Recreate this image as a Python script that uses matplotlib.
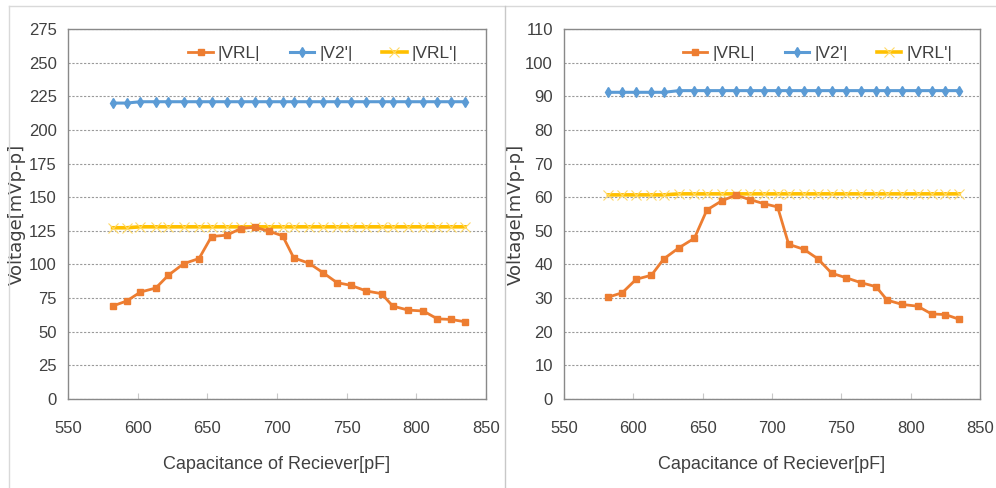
import matplotlib
matplotlib.use('Agg')
import matplotlib.pyplot as plt
from matplotlib.lines import Line2D

# capacitance of receiver [pF]
cap = [582, 592, 602, 613, 622, 633, 644, 653, 664, 674, 684, 694, 704,
       712, 723, 733, 743, 753, 764, 775, 783, 794, 805, 815, 825, 835]

# left chart
vrl_a = [69.1, 72.8, 79.5, 82.5, 92.0, 100.6, 104.4, 120.8, 121.8, 126.7, 127.7, 124.8, 121.3,
         104.9, 100.9, 93.9, 86.5, 84.5, 80.3, 78.3, 69.1, 66.1, 65.4, 59.6, 59.1, 57.4]
v2_a = [220, 220] + [221] * 24
vrlp_a = [127.3, 127.3] + [128] * 24

# right chart
vrl_b = [30.3, 31.6, 35.6, 36.8, 41.7, 45.0, 47.8, 56.2, 59.0, 60.6, 59.3, 58.1, 57.1,
         46.0, 44.5, 41.7, 37.4, 36.1, 34.6, 33.4, 29.4, 28.1, 27.6, 25.3, 25.1, 23.7]
v2_b = [91.2] * 5 + [91.7] * 21
vrlp_b = [60.7] * 5 + [61.0] * 21

ticks_a = list(range(0, 276, 25))
ticks_b = list(range(0, 111, 10))

narrow = ['Liberation Sans', 'DejaVu Sans']
orange = '#ED7D31'
blue = '#5B9BD5'
yellow = '#FFC000'
gray = '#898989'

fig = plt.figure(figsize=(9.96, 4.88), dpi=100)
ax1 = fig.add_axes([0.0683, 0.1824, 0.4197, 0.758])
ax2 = fig.add_axes([0.5663, 0.1824, 0.4177, 0.758])


def draw(ax, vrl, v2, vrlp, yticks, label_x):
    ax.plot(cap, vrlp, color=yellow, lw=2.6, marker='x', ms=7, mew=0.8,
            mec='#FFD966', label="|VRL'|", zorder=3)
    ax.plot(cap, v2, color=blue, lw=2.2, marker='d', ms=5, mec=blue, label="|V2'|", zorder=3)
    ax.plot(cap, vrl, color=orange, lw=2.0, marker='s', ms=4.5, label='|VRL|', zorder=4)
    ax.set_xlim(550, 850)
    ax.set_ylim(yticks[0], yticks[-1])
    ax.set_xticks(range(550, 851, 50))
    ax.set_yticks(yticks)
    ax.grid(axis='y', color='#9a9a9a', ls=(0, (2, 1.5)), lw=0.8)
    ax.set_axisbelow(True)
    for s in ax.spines.values():
        s.set_color(gray)
        s.set_linewidth(1.0)
    ax.tick_params(axis='y', length=0, pad=8)
    ax.tick_params(axis='x', direction='in', length=4, color='#c8c8c8', pad=16)
    for t in ax.get_xticklabels() + ax.get_yticklabels():
        t.set_family(narrow)
        t.set_fontsize(12)
        t.set_color('#404040')
    ax.set_xlabel('Capacitance of Reciever[pF]', family=narrow, fontsize=13, color='#404040')
    ax.xaxis.set_label_coords(0.5, -0.155)
    ax.set_ylabel('Voltage[mVp-p]', family=['DejaVu Sans'], fontsize=13, color='#404040')
    ax.yaxis.set_label_coords(label_x, 0.5)
    h, l = ax.get_legend_handles_labels()
    order = [2, 1, 0]
    ax.legend([h[i] for i in order], [l[i] for i in order], loc='center',
              bbox_to_anchor=(0.61, 0.935), ncol=3, frameon=False,
              prop={'family': narrow, 'size': 12.5}, handlelength=1.4,
              handletextpad=0.3, columnspacing=1.7, labelcolor='#404040')


draw(ax1, vrl_a, v2_a, vrlp_a, ticks_a, -0.1)
draw(ax2, vrl_b, v2_b, vrlp_b, ticks_b, -0.094)

# chart-area borders
border = '#d9d9d9'
fig.add_artist(Line2D([9 / 996, 1], [1 - 6 / 488, 1 - 6 / 488], color=border, lw=1, transform=fig.transFigure))
fig.add_artist(Line2D([9 / 996, 9 / 996], [0, 1 - 6 / 488], color=border, lw=1, transform=fig.transFigure))
fig.add_artist(Line2D([505 / 996, 505 / 996], [0, 1 - 6 / 488], color='#c8c8c8', lw=1, transform=fig.transFigure))

fig.savefig('out.png', dpi=100)
